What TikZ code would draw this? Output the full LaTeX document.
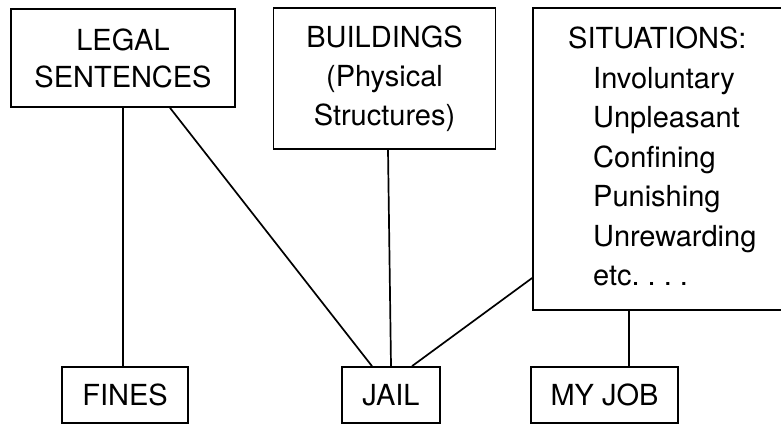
\documentclass[tikz,border=0pt]{standalone}
\usepackage{fontspec}
\setmainfont{TeX Gyre Heros}
\begin{document}
\begin{tikzpicture}[x=1pt,y=-1pt,
  box/.style={draw,line width=1.7pt,inner sep=0pt,align=center,font=\fontsize{29}{37}\selectfont},
  conn/.style={line width=1.7pt},
  txt/.style={inner sep=0pt,align=left,font=\fontsize{29}{39.5}\selectfont}]
\clip (0,0) rectangle (781,425);
\fill[white] (0,0) rectangle (781,425);
\node[box,minimum width=224pt,minimum height=98pt] (legal) at (123,58) {LEGAL\\SENTENCES};
\node[box,minimum width=222pt,minimum height=141pt,font=\fontsize{29}{39}\selectfont] (buildings) at (384.5,78.5) {BUILDINGS\\(Physical\\Structures)};
\node[box,minimum width=267pt,minimum height=302pt] (sit) at (666.5,159) {};
\node[txt,anchor=north west] (sittext) at (568,27) {SITUATIONS:\\\hspace*{25pt}Involuntary\\\hspace*{25pt}Unpleasant\\\hspace*{25pt}Confining\\\hspace*{25pt}Punishing\\\hspace*{25pt}Unrewarding\\\hspace*{25pt}etc.~.~.~.};
\node[box,minimum width=126pt,minimum height=56pt] (fines) at (125,395) {FINES};
\node[box,minimum width=98pt,minimum height=56pt] (jail) at (391,395) {JAIL};
\node[box,minimum width=147pt,minimum height=56pt] (myjob) at (604.5,395) {MY JOB};
\draw[conn] (legal.south) -- (legal.south |- fines.north);
\draw[conn] ([xshift=47pt]legal.south) -- ([xshift=-19pt]jail.north);
\draw[conn] ([xshift=3.5pt]buildings.south) -- (jail.north);
\draw[conn] ([yshift=-119pt]sit.west) -- ([xshift=21pt]jail.north);
\draw[conn] ([xshift=24.5pt]myjob.north |- sit.south) -- ([xshift=24.5pt]myjob.north);
\end{tikzpicture}
\end{document}
